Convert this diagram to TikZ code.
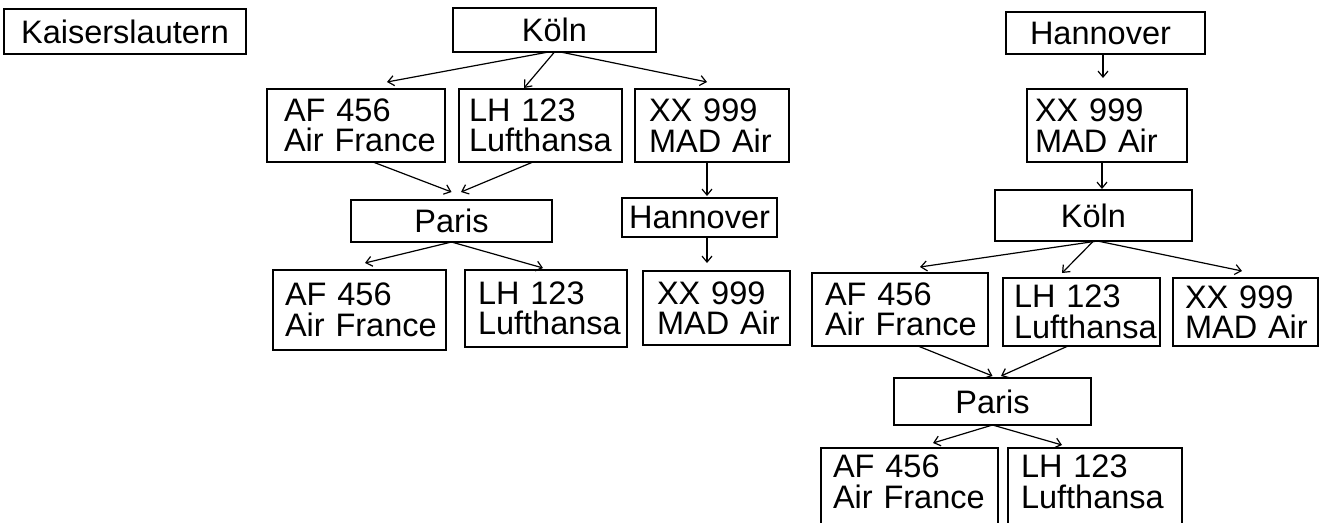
\documentclass[tikz,border=0pt]{standalone}
\usepackage{fontspec}
\setmainfont{Liberation Sans}
\usetikzlibrary{arrows.meta}
\tikzset{
  box/.style={draw, line width=1.4pt, rectangle, inner ysep=0pt, outer sep=0pt,
    font=\fontsize{32.5}{30.5}\selectfont},
  lbox/.style={box, align=left},
  conn/.style={line width=1.2pt, -{Straight Barb[length=6pt,width=10pt]}},
}
\begin{document}
\begin{tikzpicture}[x=1pt,y=-1pt]
\useasboundingbox (0,0) rectangle (1333,522);
\fill[white] (0,0) rectangle (1333,522);
\clip (0,0) rectangle (1333,522);

% ---- single box ----
\node[box, minimum width=242, minimum height=45] (kais) at (125,31.5) {Kaiserslautern};

% ---- left tree ----
\node[box, minimum width=203, minimum height=44] (koelnL) at (554.5,30) {Köln};
\node[lbox, minimum width=178, minimum height=73, inner xsep=17, text width=144] (afL) at (356,125.5) {\mbox{AF 456}\\\mbox{Air France}};
\node[lbox, minimum width=163, minimum height=73, inner xsep=10, text width=143] (lhL) at (540.5,125.5) {\mbox{LH 123}\\\mbox{Lufthansa}};
\node[lbox, minimum width=154, minimum height=73, inner xsep=14, text width=126] (xxL) at (712,125.5) {\mbox{XX 999}\\\mbox{MAD Air}};
\node[box, minimum width=201, minimum height=42] (parisL) at (451.5,221) {Paris};
\node[box, minimum width=155, minimum height=39] (hanL) at (699.5,217.5) {Hannover};
\node[lbox, minimum width=173, minimum height=80, inner xsep=12, text width=149] (af2L) at (359.5,310) {\mbox{AF 456}\\\mbox{Air France}};
\node[lbox, minimum width=162, minimum height=77, inner xsep=13, text width=136] (lh2L) at (546,308.5) {\mbox{LH 123}\\\mbox{Lufthansa}};
\node[lbox, minimum width=147, minimum height=74, inner xsep=14, text width=119] (xx2L) at (716.5,308) {\mbox{XX 999}\\\mbox{MAD Air}};

\draw[conn] ([xshift=-6]koelnL.south) -- ([xshift=31,yshift=7]afL.north);
\draw[conn] (koelnL.south) -- ([xshift=-16.5,yshift=1]lhL.north);
\draw[conn] ([xshift=6]koelnL.south) -- ([xshift=-5,yshift=7]xxL.north);
\draw[conn] ([xshift=17]afL.south) -- ([yshift=8]parisL.north);
\draw[conn] ([xshift=-7.5]lhL.south) -- ([xshift=9.5,yshift=8]parisL.north);
\draw[conn] (parisL.south) -- ([xshift=5.5,yshift=7]af2L.north);
\draw[conn] (parisL.south) -- ([xshift=-3,yshift=2]lh2L.north);
\draw[conn] ([xshift=-5]xxL.south) -- ([xshift=7.5,yshift=2]hanL.north);
\draw[conn] ([xshift=7.5]hanL.south) -- ([xshift=-9.5,yshift=8]xx2L.north);

% ---- right tree ----
\node[lbox, minimum width=199, minimum height=42, inner xsep=24, text width=151] (hanR) at (1105.5,33) {Hannover};
\node[lbox, minimum width=160, minimum height=73, inner xsep=8, text width=144] (xxR) at (1107,125.5) {\mbox{XX 999}\\\mbox{MAD Air}};
\node[box, minimum width=197, minimum height=51] (koelnR) at (1093.5,215.5) {Köln};
\node[lbox, minimum width=176, minimum height=73, inner xsep=13, text width=150] (afR) at (900,309.5) {\mbox{AF 456}\\\mbox{Air France}};
\node[lbox, minimum width=157, minimum height=68, inner xsep=11, text width=135] (lhR) at (1081.5,312) {\mbox{LH 123}\\\mbox{Lufthansa}};
\node[lbox, minimum width=145, minimum height=68, inner xsep=12, text width=121] (xxR2) at (1245.5,312) {\mbox{XX 999}\\\mbox{MAD Air}};
\node[box, minimum width=197, minimum height=47] (parisR) at (992.5,401.5) {Paris};
\node[lbox, minimum width=177, minimum height=97.5, inner xsep=12, text width=153] (afR2) at (909.5,496.75) {\mbox{AF 456}\\\mbox{Air France}\\\mbox{}};
\node[lbox, minimum width=174, minimum height=97.5, inner xsep=13, text width=148] (lhR2) at (1095,496.75) {\mbox{LH 123}\\\mbox{Lufthansa}\\\mbox{}};

\draw[conn] ([xshift=-2.5]hanR.south) -- ([xshift=-4,yshift=11]xxR.north);
\draw[conn] ([xshift=-5]xxR.south) -- ([xshift=8.5,yshift=1]koelnR.north);
\draw[conn] ([xshift=4]koelnR.south) -- ([xshift=20,yshift=6]afR.north);
\draw[conn] (koelnR.south) -- ([xshift=-19.5,yshift=5]lhR.north);
\draw[conn] ([xshift=4]koelnR.south) -- ([xshift=-3.5,yshift=7]xxR2.north);
\draw[conn] ([xshift=18]afR.south) -- ([yshift=2]parisR.north);
\draw[conn] ([xshift=-13.5]lhR.south) -- ([xshift=8.5,yshift=2]parisR.north);
\draw[conn] (parisR.south) -- ([xshift=23.5,yshift=5]afR2.north);
\draw[conn] (parisR.south) -- ([xshift=-33,yshift=3]lhR2.north);
\end{tikzpicture}
\end{document}
